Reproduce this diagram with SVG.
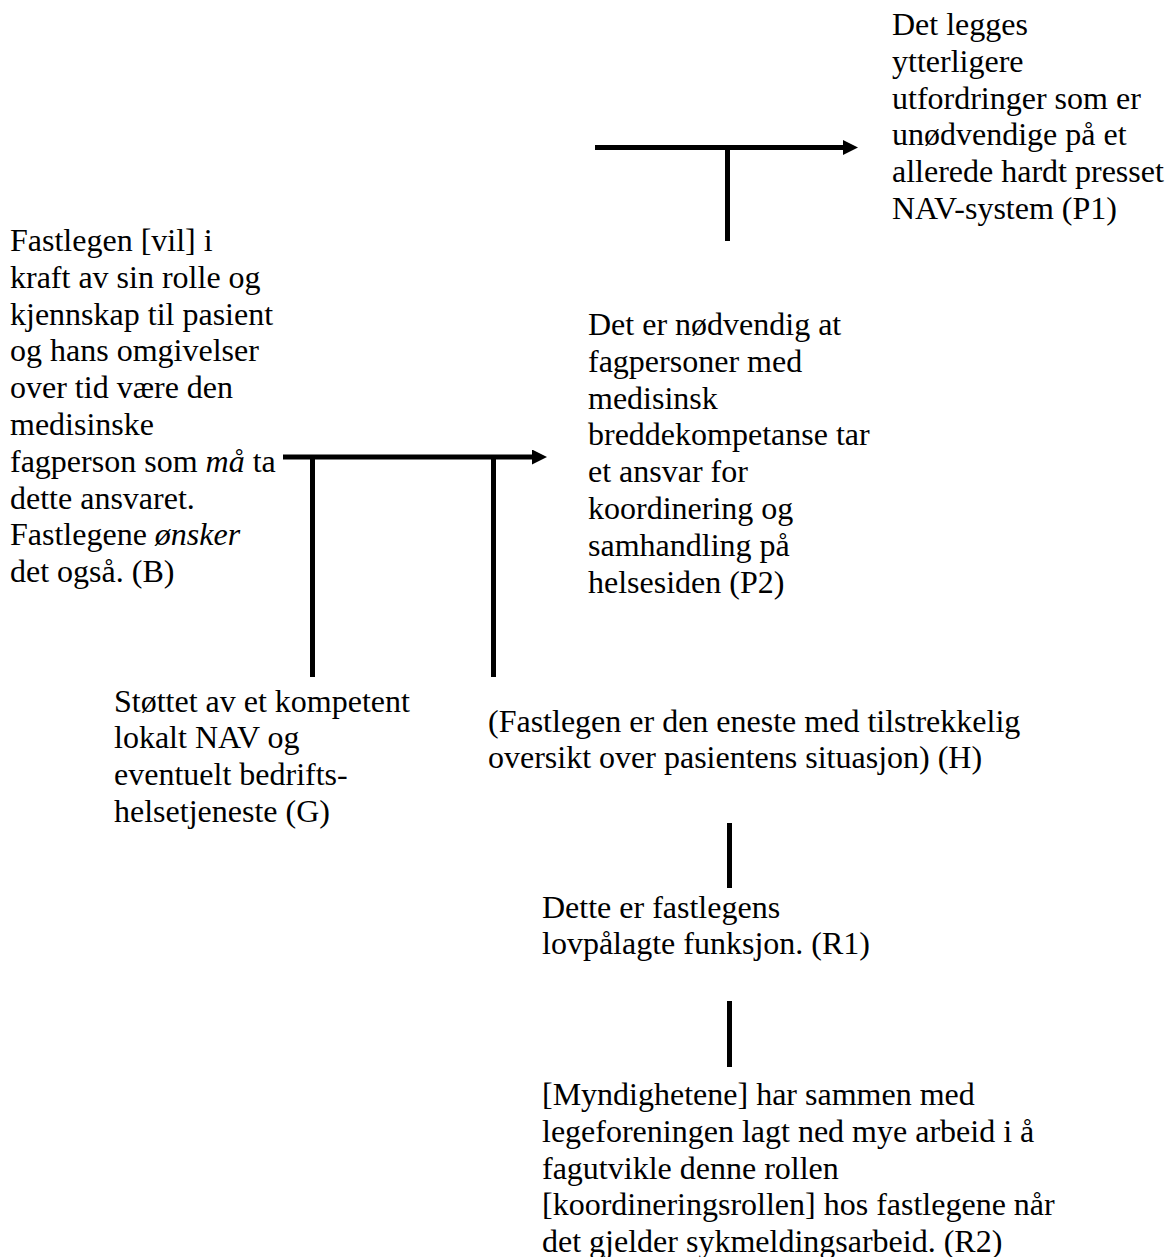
<svg xmlns="http://www.w3.org/2000/svg" width="1170" height="1257" viewBox="0 0 1170 1257">
  <style>
    text { font-family: "Liberation Serif", "Times New Roman", serif; font-size: 32px; fill: #000; }
    .em { font-style: italic; }
    .link { stroke: #000; stroke-width: 5; fill: none; }
  </style>
  <defs>
    <marker id="head" markerUnits="userSpaceOnUse" markerWidth="16" markerHeight="16" refX="1" refY="7.5" orient="auto">
      <path d="M0,0 L15,7.5 L0,15 Z" fill="#000"/>
    </marker>
  </defs>
  <rect width="1170" height="1257" fill="#fff"/>

  <!-- connectors -->
  <g id="connectors">
    <line class="link" x1="595" y1="147.5" x2="844" y2="147.5" marker-end="url(#head)"/>
    <line class="link" x1="727.5" y1="147.5" x2="727.5" y2="241"/>
    <line class="link" x1="283" y1="457" x2="533" y2="457" marker-end="url(#head)"/>
    <line class="link" x1="312.5" y1="457" x2="312.5" y2="677"/>
    <line class="link" x1="493.5" y1="457" x2="493.5" y2="677"/>
    <line class="link" x1="729.5" y1="823" x2="729.5" y2="888"/>
    <line class="link" x1="729.5" y1="1001" x2="729.5" y2="1067"/>
  </g>

  <!-- P1 -->
  <g id="p1">
    <text x="892" y="35">Det legges</text>
    <text x="892" y="71.8">ytterligere</text>
    <text x="892" y="108.6">utfordringer som er</text>
    <text x="892" y="145.4">unødvendige på et</text>
    <text x="892" y="182.2">allerede hardt presset</text>
    <text x="892" y="219">NAV-system (P1)</text>
  </g>

  <!-- B -->
  <g id="b">
    <text x="10" y="251">Fastlegen [vil] i</text>
    <text x="10" y="287.8">kraft av sin rolle og</text>
    <text x="10" y="324.6">kjennskap til pasient</text>
    <text x="10" y="361.4">og hans omgivelser</text>
    <text x="10" y="398.2">over tid være den</text>
    <text x="10" y="435">medisinske</text>
    <text x="10" y="471.8">fagperson som <tspan class="em">må</tspan> ta</text>
    <text x="10" y="508.6">dette ansvaret.</text>
    <text x="10" y="545.4">Fastlegene <tspan class="em">ønsker</tspan></text>
    <text x="10" y="582.2">det også. (B)</text>
  </g>

  <!-- P2 -->
  <g id="p2">
    <text x="588" y="335">Det er nødvendig at</text>
    <text x="588" y="371.8">fagpersoner med</text>
    <text x="588" y="408.6">medisinsk</text>
    <text x="588" y="445.4">breddekompetanse tar</text>
    <text x="588" y="482.2">et ansvar for</text>
    <text x="588" y="519">koordinering og</text>
    <text x="588" y="555.8">samhandling på</text>
    <text x="588" y="592.6">helsesiden (P2)</text>
  </g>

  <!-- G -->
  <g id="g">
    <text x="114" y="711.5">Støttet av et kompetent</text>
    <text x="114" y="748.3">lokalt NAV og</text>
    <text x="114" y="785.1">eventuelt bedrifts-</text>
    <text x="114" y="821.9">helsetjeneste (G)</text>
  </g>

  <!-- H -->
  <g id="h">
    <text x="488" y="731.5">(Fastlegen er den eneste med tilstrekkelig</text>
    <text x="488" y="768.3">oversikt over pasientens situasjon) (H)</text>
  </g>

  <!-- R1 -->
  <g id="r1">
    <text x="542" y="917.5">Dette er fastlegens</text>
    <text x="542" y="954.3">lovpålagte funksjon. (R1)</text>
  </g>

  <!-- R2 -->
  <g id="r2">
    <text x="542" y="1105">[Myndighetene] har sammen med</text>
    <text x="542" y="1141.8">legeforeningen lagt ned mye arbeid i å</text>
    <text x="542" y="1178.6">fagutvikle denne rollen</text>
    <text x="542" y="1215.4">[koordineringsrollen] hos fastlegene når</text>
    <text x="542" y="1252.2">det gjelder sykmeldingsarbeid. (R2)</text>
  </g>
</svg>
